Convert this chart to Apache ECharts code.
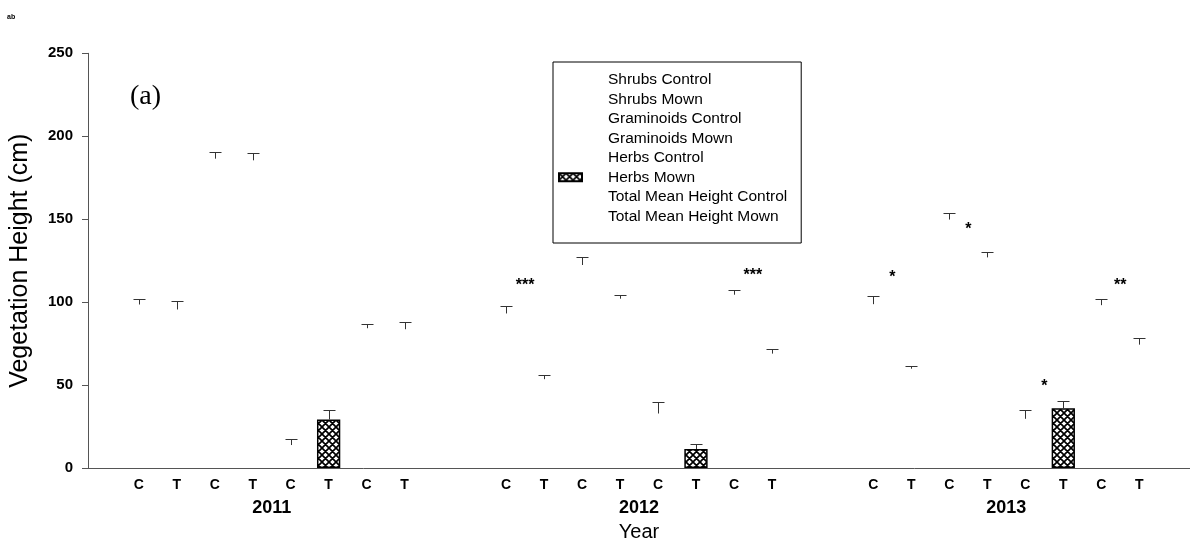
<!DOCTYPE html>
<html>
<head>
<meta charset="utf-8">
<script src="https://cdn.jsdelivr.net/npm/echarts@6/dist/echarts.min.js"></script>
<style>
  html, body { margin: 0; padding: 0; background: #fff; }
  #chart { width: 1190px; height: 547px; }
</style>
</head>
<body>
<div id="chart"></div>
<script>
// ---- data ----
const years = ['2011', '2012', '2013'];
const seriesNames = [
  'Shrubs Control', 'Shrubs Mown',
  'Graminoids Control', 'Graminoids Mown',
  'Herbs Control', 'Herbs Mown',
  'Total Mean Height Control', 'Total Mean Height Mown'
];
const treatmentCodes = ['C', 'T', 'C', 'T', 'C', 'T', 'C', 'T'];

// mean vegetation height (cm) per year
const shrubsControl     = [98.6, 93.2, 98.8];
const shrubsMown        = [95.6, 53.6, 59.9];
const graminoidsControl = [186.5, 122.4, 149.8];
const graminoidsMown    = [185.5, 102.1, 127.0];
const herbsControl      = [13.9, 32.9, 29.7];
const herbsMown         = [29.3, 11.5, 36.1];
const totalControl      = [84.3, 104.5, 98.2];
const totalMown         = [83.7, 69.0, 74.4];

// standard error (cm) per year
const shrubsControlSE     = [3.2, 4.4, 4.8];
const shrubsMownSE        = [5.4, 2.3, 1.6];
const graminoidsControlSE = [4.2, 4.8, 4.0];
const graminoidsMownSE    = [4.2, 2.4, 3.4];
const herbsControlSE      = [3.7, 7.0, 5.2];
const herbsMownSE         = [5.6, 3.0, 4.2];
const totalControlSE      = [2.6, 2.6, 3.6];
const totalMownSE         = [4.2, 2.8, 3.9];

// significance between control and mown: [year index, group index, height (cm), stars]
const sigMarks = [
  [1, 0, 110, '***'],
  [1, 3, 116, '***'],
  [2, 0, 115, '*'],
  [2, 1, 144, '*'],
  [2, 2, 49, '*'],
  [2, 3, 110, '**']
];

const yMin = 0, yMax = 250, yStep = 50;

// ---- layout / style ----
const FONT = '"Liberation Sans", Arial, sans-serif';
const BAR_W = 23.3;
const BAR_GAP = 0.63;
const AXIS_COLOR = '#555';
const ERR_COLOR = '#333';

const means = [shrubsControl, shrubsMown, graminoidsControl, graminoidsMown,
               herbsControl, herbsMown, totalControl, totalMown];
const errors = [shrubsControlSE, shrubsMownSE, graminoidsControlSE, graminoidsMownSE,
                herbsControlSE, herbsMownSE, totalControlSE, totalMownSE];

// horizontal offset of bar i inside its year group (same rule ECharts uses for fixed-width bars)
function barOffset(i) {
  const n = means.length;
  const step = BAR_W * (1 + BAR_GAP);
  const total = n * BAR_W + (n - 1) * BAR_W * BAR_GAP;
  return -total / 2 + i * step + BAR_W / 2;
}

// cross-hatch fill
function hatchPattern() {
  const s = 7;
  const c = document.createElement('canvas');
  c.width = s; c.height = s;
  const g = c.getContext('2d');
  g.fillStyle = '#fff';
  g.fillRect(0, 0, s, s);
  g.strokeStyle = '#000';
  g.lineWidth = 1.7;
  g.beginPath();
  for (let d = -s; d <= s; d += s) {
    g.moveTo(d, 0); g.lineTo(d + s, s);
    g.moveTo(d + s, 0); g.lineTo(d, s);
  }
  g.stroke();
  return c;
}
const hatch = { image: hatchPattern(), repeat: 'repeat' };

const barSeries = seriesNames.map((name, i) => ({
  type: 'bar',
  name: name,
  data: means[i],
  barWidth: BAR_W,
  barGap: (BAR_GAP * 100) + '%',
  silent: true,
  itemStyle: name === 'Herbs Mown'
    ? { color: hatch, borderColor: '#000', borderWidth: 1.5 }
    : { color: 'rgba(255,255,255,0)', borderWidth: 0 },
  label: {
    show: true,
    position: 'bottom',
    distance: 10,
    formatter: treatmentCodes[i],
    fontFamily: FONT,
    fontSize: 14,
    fontWeight: 'bold',
    color: '#000'
  }
}));

const errorData = [];
means.forEach((arr, i) => arr.forEach((v, y) => errorData.push([y, i, v, errors[i][y]])));

const errorSeries = {
  type: 'custom',
  silent: true,
  z: 5,
  encode: { x: 0, y: 2 },
  data: errorData,
  renderItem: (params, api) => {
    const cat = api.value(0), idx = api.value(1), v = api.value(2), e = api.value(3);
    const cx = Math.round(api.coord([cat, 0])[0] + barOffset(idx)) + 0.5;
    const yBase = api.coord([cat, v])[1];
    const yTop = Math.round(api.coord([cat, v + e])[1]) + 0.5;
    const st = { stroke: ERR_COLOR, lineWidth: 1 };
    return {
      type: 'group',
      children: [
        { type: 'line', shape: { x1: cx, y1: yBase, x2: cx, y2: yTop }, style: st },
        { type: 'line', shape: { x1: cx - 6, y1: yTop, x2: cx + 6, y2: yTop }, style: st }
      ]
    };
  }
};

const starSeries = {
  type: 'custom',
  silent: true,
  z: 6,
  encode: { x: 0, y: 2 },
  data: sigMarks,
  renderItem: (params, api) => {
    const cat = api.value(0), pair = api.value(1), h = api.value(2);
    const text = sigMarks[params.dataIndex][3];
    const base = api.coord([cat, h]);
    const cx = base[0] + (barOffset(pair * 2) + barOffset(pair * 2 + 1)) / 2;
    return {
      type: 'text',
      x: cx, y: base[1],
      style: {
        text: text, fill: '#000',
        font: 'bold 16px ' + FONT,
        align: 'center', verticalAlign: 'middle'
      }
    };
  }
};

const chart = echarts.init(document.getElementById('chart'), null, { renderer: 'canvas' });
chart.setOption({
  animation: false,
  backgroundColor: '#fff',
  textStyle: { fontFamily: FONT },
  grid: { left: 87, right: -7, top: 53.3, bottom: 73.7, containLabel: false },
  legend: {
    data: seriesNames,
    orient: 'vertical',
    left: 553, top: 62,
    borderColor: '#000', borderWidth: 1,
    padding: [8, 14, 17, 5],
    itemGap: 0,
    itemWidth: 23, itemHeight: 8,
    icon: 'rect',
    selectedMode: false,
    textStyle: { fontFamily: FONT, fontSize: 15.5, color: '#000', lineHeight: 19.5, padding: [0, 0, 0, 21] }
  },
  xAxis: {
    type: 'category',
    data: years,
    axisTick: { show: false },
    axisLine: { show: true, lineStyle: { color: AXIS_COLOR, width: 1 } },
    axisLabel: { margin: 31, fontFamily: FONT, fontSize: 18, fontWeight: 'bold', color: '#000' },
    name: 'Year',
    nameLocation: 'middle',
    nameGap: 46,
    nameTextStyle: { fontFamily: FONT, fontSize: 20, color: '#000' }
  },
  yAxis: {
    type: 'value',
    min: yMin, max: yMax, interval: yStep,
    axisLine: { show: true, lineStyle: { color: AXIS_COLOR, width: 1 } },
    axisTick: { show: true, length: 6, lineStyle: { color: AXIS_COLOR } },
    splitLine: { show: false },
    axisLabel: { margin: 15, fontFamily: FONT, fontSize: 15, fontWeight: 'bold', color: '#000' },
    name: 'Vegetation Height (cm)',
    nameLocation: 'middle',
    nameGap: 55,
    nameTextStyle: { fontFamily: FONT, fontSize: 25, color: '#000' }
  },
  graphic: [
    { type: 'text', x: 130, y: 97, silent: true,
      style: { text: '(a)', fill: '#000', font: '28px "Liberation Serif", "Times New Roman", serif', align: 'left', verticalAlign: 'middle' } },
    { type: 'text', x: 7, y: 17, silent: true,
      style: { text: 'ab', fill: '#000', font: 'bold 7px ' + FONT, align: 'left', verticalAlign: 'middle' } }
  ],
  series: barSeries.concat([errorSeries, starSeries])
});
</script>
</body>
</html>
